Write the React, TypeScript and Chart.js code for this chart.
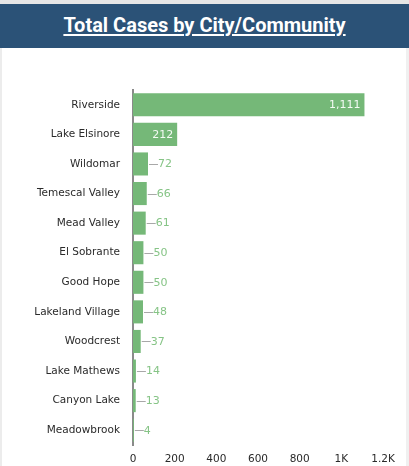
import React, { useEffect, useRef } from "react";
import { Chart, registerables } from "chart.js";

Chart.register(...registerables);

const titleText = "Total Cases by City/Community";
const cities = [
  "Riverside",
  "Lake Elsinore",
  "Wildomar",
  "Temescal Valley",
  "Mead Valley",
  "El Sobrante",
  "Good Hope",
  "Lakeland Village",
  "Woodcrest",
  "Lake Mathews",
  "Canyon Lake",
  "Meadowbrook",
];
const cases = [1111, 212, 72, 66, 61, 50, 50, 48, 37, 14, 13, 4];
const xTickLabels = ["0", "200", "400", "600", "800", "1K", "1.2K"];
const xMax = 1200;
const xStep = 200;

const FONT = "'DejaVu Sans', Verdana, sans-serif";

const valueLabelPlugin = {
  id: "valueLabels",
  afterDatasetsDraw(chart: any) {
    const ctx = chart.ctx;
    const meta = chart.getDatasetMeta(0);
    ctx.save();
    ctx.font = `11px ${FONT}`;
    ctx.textBaseline = "middle";
    meta.data.forEach((bar: any, i: number) => {
      const v = cases[i];
      const txt = v.toLocaleString("en-US");
      const x = bar.x;
      const y = bar.y;
      const w = ctx.measureText(txt).width;
      const base = bar.base;
      if (x - base > w + 10) {
        ctx.fillStyle = "#f4fbf4";
        ctx.textAlign = "right";
        ctx.fillText(txt, x - 4, y + 0.5);
      } else {
        ctx.strokeStyle = "#a8a8a8";
        ctx.lineWidth = 1;
        ctx.beginPath();
        ctx.moveTo(x + 1, Math.round(y) + 0.5);
        ctx.lineTo(x + 10, Math.round(y) + 0.5);
        ctx.stroke();
        ctx.fillStyle = "#86c486";
        ctx.textAlign = "left";
        ctx.fillText(txt, x + 10, y + 0.5);
      }
    });
    ctx.restore();
  },
};

export default function App() {
  const ref = useRef<HTMLCanvasElement>(null);
  useEffect(() => {
    if (!ref.current) return;
    const chart = new Chart(ref.current, {
      type: "bar",
      data: {
        labels: cities,
        datasets: [
          {
            data: cases,
            backgroundColor: "#75b878",
            borderWidth: 0,
            barPercentage: 0.78,
            categoryPercentage: 1,
          },
        ],
      },
      options: {
        indexAxis: "y",
        animation: false,
        responsive: false,
        maintainAspectRatio: false,
        layout: { padding: { top: 30, right: 23, left: 0, bottom: 0 } },
        plugins: {
          legend: { display: false },
          tooltip: { enabled: false },
        },
        scales: {
          x: {
            min: 0,
            max: xMax,
            ticks: {
              stepSize: xStep,
              padding: 8,
              color: "#2a2a2a",
              font: { family: FONT, size: 10.5 },
              callback: (_v: any, i: number) => xTickLabels[i],
            },
            grid: { display: false, drawTicks: false },
            border: { display: false },
            afterFit: (s: any) => {
              s.height = 21;
            },
          },
          y: {
            ticks: {
              padding: 13,
              color: "#2a2a2a",
              font: { family: FONT, size: 10.5 },
            },
            grid: { display: false, drawTicks: false },
            border: { display: true, color: "#8a8a8a", width: 2 },
            afterFit: (s: any) => {
              s.width = 131;
            },
          },
        },
      },
      plugins: [valueLabelPlugin],
    });
    return () => chart.destroy();
  }, []);

  return (
    <div
      style={{
        position: "fixed",
        left: 0,
        top: 0,
        width: 409,
        height: 466,
        background: "#fff",
        overflow: "hidden",
      }}
    >
      <div
        style={{
          position: "absolute",
          left: 0,
          top: 0,
          width: 409,
          height: 4,
          background: "#e6e6e6",
        }}
      />
      <div
        style={{
          position: "absolute",
          left: 0,
          top: 48,
          width: 2,
          height: 418,
          background: "#ececec",
        }}
      />
      <div
        style={{
          position: "absolute",
          left: 406,
          top: 48,
          width: 3,
          height: 418,
          background: "#f0f0f0",
        }}
      />
      <div
        style={{
          position: "absolute",
          left: 0,
          top: 4,
          width: 409,
          height: 44,
          background: "#2b5277",
          color: "#fff",
          display: "flex",
          alignItems: "center",
          justifyContent: "center",
          fontFamily: "Roboto, sans-serif",
          fontWeight: 700,
          fontSize: 20,
          textDecoration: "underline",
          textUnderlineOffset: 2,
          paddingBottom: 3,
          boxSizing: "border-box",
        }}
      >
        {titleText}
      </div>
      <canvas
        ref={ref}
        width={404}
        height={406}
        style={{ position: "absolute", left: 2, top: 60, width: 404, height: 406 }}
      />
    </div>
  );
}
